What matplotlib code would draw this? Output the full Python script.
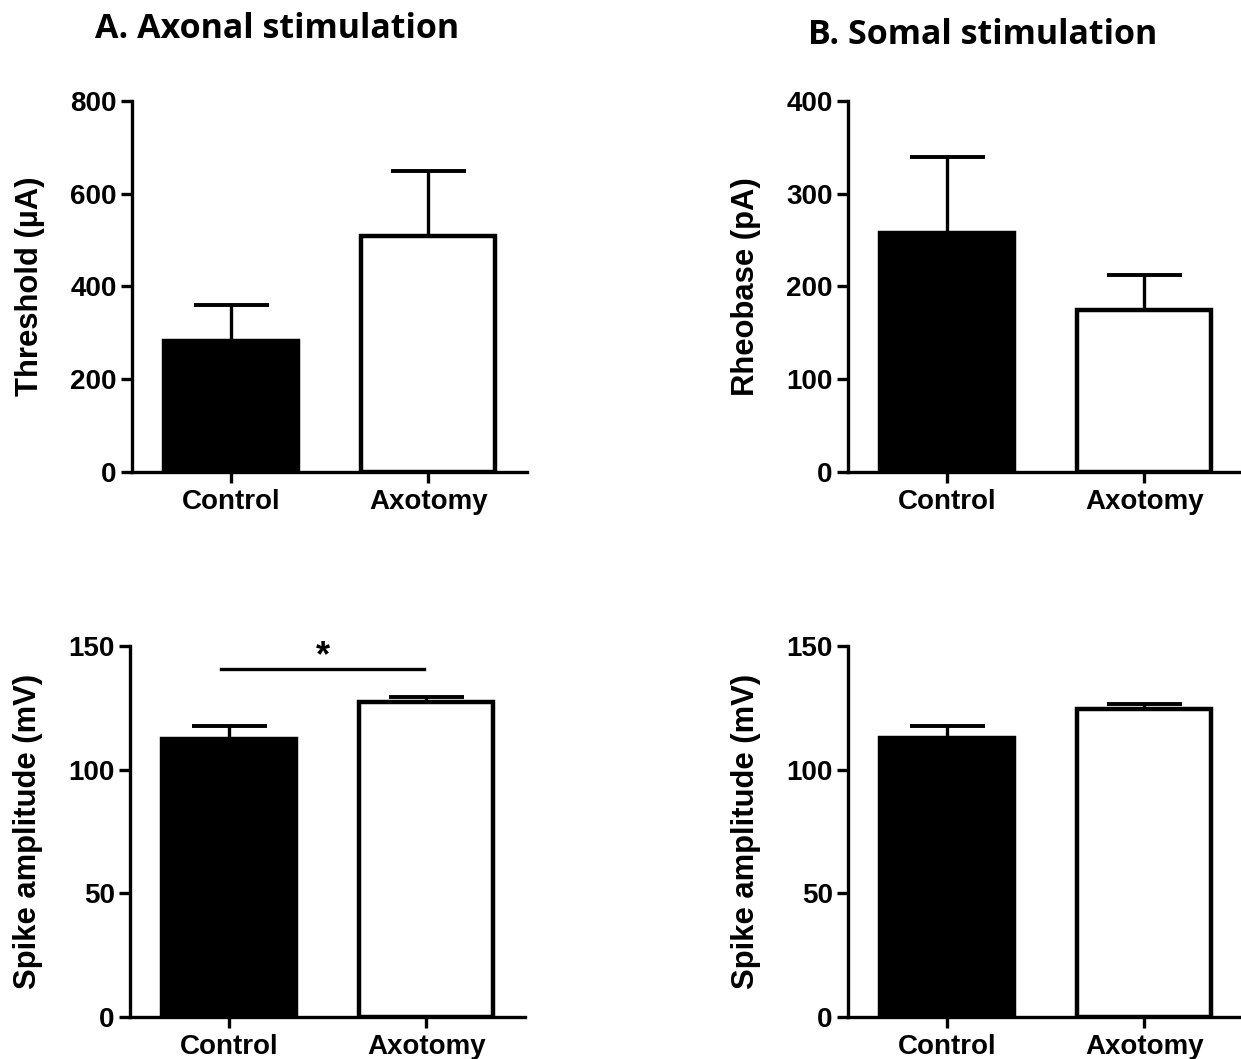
import matplotlib
matplotlib.use("Agg")
import matplotlib.pyplot as plt
import numpy as np

groups = ["Control", "Axotomy"]

threshold_mean = [283, 508]
threshold_sem = [77, 141]

rheobase_mean = [258, 175]
rheobase_sem = [82, 37]

spike_axonal_mean = [112.5, 127.5]
spike_axonal_sem = [5.0, 2.0]

spike_somal_mean = [113.0, 124.5]
spike_somal_sem = [4.5, 2.0]

bar_colors = ["black", "white"]

W, H = 1241, 1059
fig = plt.figure(figsize=(W / 100, H / 100), dpi=100)

FAM = ["Liberation Sans", "DejaVu Sans"]
LABEL_FONT = dict(family=FAM, weight="bold", size=22.3)


def px_axes(left, right, top, bottom):
    return fig.add_axes([left / W, 1 - bottom / H, (right - left) / W, (bottom - top) / H])


def panel(ax, means, sems, ymax, step, ylabel):
    x = np.arange(len(groups))
    ax.bar(x, means, width=0.68, color=bar_colors, edgecolor="black",
           linewidth=3.2, zorder=3)
    ax.errorbar(x, means, yerr=[np.zeros(len(sems)), sems], fmt="none",
                ecolor="black", elinewidth=2.4, capsize=27, capthick=2.8, zorder=2)
    ax.set_xlim(-0.5, 1.5)
    ax.set_ylim(0, ymax)
    ax.set_yticks(np.arange(0, ymax + step / 2, step))
    ax.set_xticks(x)
    ax.set_xticklabels(groups)
    for s in ["top", "right"]:
        ax.spines[s].set_visible(False)
    for s in ["left", "bottom"]:
        ax.spines[s].set_linewidth(2.4)
    ax.tick_params(axis="both", direction="out", length=8, width=2.4, pad=3)
    ax.tick_params(axis="x", pad=4.5)
    for lbl in ax.get_xticklabels() + ax.get_yticklabels():
        lbl.set_fontfamily(FAM)
        lbl.set_fontweight("bold")
        lbl.set_fontsize(20)
    ax.set_ylabel(ylabel, fontdict=LABEL_FONT, labelpad=18)
    ax.patch.set_visible(False)


axA1 = px_axes(132, 527, 101, 472)
panel(axA1, threshold_mean, threshold_sem, 800, 200, "Threshold (µA)")

axB1 = px_axes(848, 1243, 101, 472)
panel(axB1, rheobase_mean, rheobase_sem, 400, 100, "Rheobase (pA)")

axA2 = px_axes(130, 525, 646, 1017)
panel(axA2, spike_axonal_mean, spike_axonal_sem, 150, 50, "Spike amplitude (mV)")

axB2 = px_axes(848, 1243, 646, 1017)
panel(axB2, spike_somal_mean, spike_somal_sem, 150, 50, "Spike amplitude (mV)")

# significance marker
sig_y = 140.5
axA2.plot([-0.04, 0.99], [sig_y, sig_y], color="black", lw=2.4, clip_on=False)
axA2.text(0.475, sig_y - 1.8, "*", ha="center", va="bottom",
          fontsize=26, fontweight="bold", family=FAM)

# panel titles
fig.text(95 / W, 1 - 29 / H, "A. Axonal stimulation", ha="left", va="center",
         fontsize=24.5, fontweight="bold", family=["Open Sans", "DejaVu Sans"])
fig.text(808 / W, 1 - 35 / H, "B. Somal stimulation", ha="left", va="center",
         fontsize=24.5, fontweight="bold", family=["Open Sans", "DejaVu Sans"])

fig.savefig("out.png", dpi=100)
